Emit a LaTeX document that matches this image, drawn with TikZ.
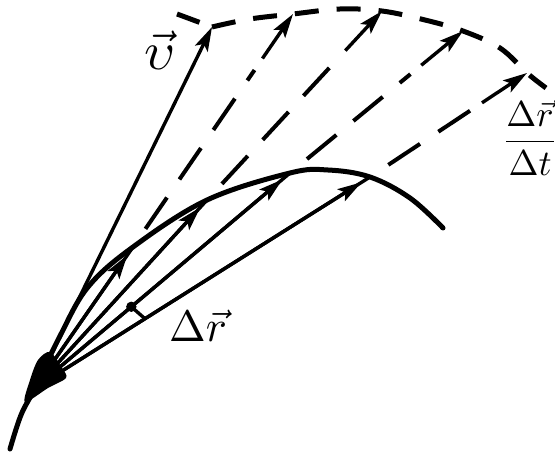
\documentclass[tikz,border=0pt]{standalone}
\usetikzlibrary{calc,arrows.meta}
\begin{document}
\begin{tikzpicture}[x=0.5pt,y=-0.5pt,
  vecarrow/.style={line width=1.7pt,-{Stealth[length=12pt,width=7pt,inset=2.5pt]}},
  chordline/.style={line width=1.7pt},
  extline/.style={line width=2pt,dash pattern=on 19pt off 11pt,dash phase=19pt},
  hodo/.style={line width=2.5pt,dash pattern=on 12pt off 9pt},
  traj/.style={line width=2.5pt,line cap=round},
  lbl/.style={inner sep=0pt}]
\useasboundingbox (0,0) rectangle (555,458);

% points
\coordinate (O) at (35,388);
\coordinate (E1) at (370,177);
\coordinate (E2) at (290,173);
\coordinate (E3) at (207,200);
\coordinate (E4) at (133,247);
\coordinate (V) at (212,27);
\coordinate (T1) at (293,14);
\coordinate (T2) at (382,11);
\coordinate (T3) at (463,31);
\coordinate (T4) at (527,73);
\coordinate (H0) at (177,14);
\coordinate (Hend) at (546,88);
\coordinate (Bot) at (10,449);

% trajectory
\draw[traj] plot[smooth,tension=0.6] coordinates {(Bot) (21,415) (O) (60,336) (88,287) (E4) (E3) (E2) (328,170) (E1) (410,198) (443,228)};

% ink blob at the start point
\fill plot[smooth cycle,tension=0.5] coordinates {(25,402) (30,380) (38,360) (50,352) (62,368) (66,378) (48,388)};

% velocity vector
\draw[vecarrow] (O) -- (V);

% chords with arrowheads
\foreach \e in {E1,E2,E3,E4}{
  \draw[chordline] (O) -- (\e);
  \draw[vecarrow,shorten >=5pt] (O) -- (\e);
}

% dashed extensions and the scaled vectors
\foreach \e/\t in {E4/T1,E3/T2,E2/T3,E1/T4}{
  \draw[extline] (\e) -- ($(\t)!34pt!(\e)$);
  \draw[vecarrow] ($(\t)!27pt!(\e)$) -- (\t);
}

% dashed hodograph
\draw[hodo] (H0) -- (V);
\draw[hodo] plot[smooth,tension=0.6] coordinates {(V) (250,19) (T1) (340,9) (T2) (425,20) (T3) (500,48) (T4) (Hend)};

% small mark between chords
\coordinate (M1) at ($(O)!63pt!(E2)$);
\coordinate (M2) at ($(O)!65pt!(E1)$);
\draw[line width=1.7pt] (M1) -- (M2);
\fill (M1) circle (2.6pt);

% labels
\node[lbl,scale=2.7] (vlab) at (160,50) {$\vec{\upsilon}$};
\node[lbl,scale=2.2] (drlab) at (198,326) {$\Delta\vec{r}$};
\node[lbl,scale=1.8] (frac) at (530,138) {$\displaystyle\frac{\Delta\vec{r}}{\Delta t}$};
\end{tikzpicture}
\end{document}
